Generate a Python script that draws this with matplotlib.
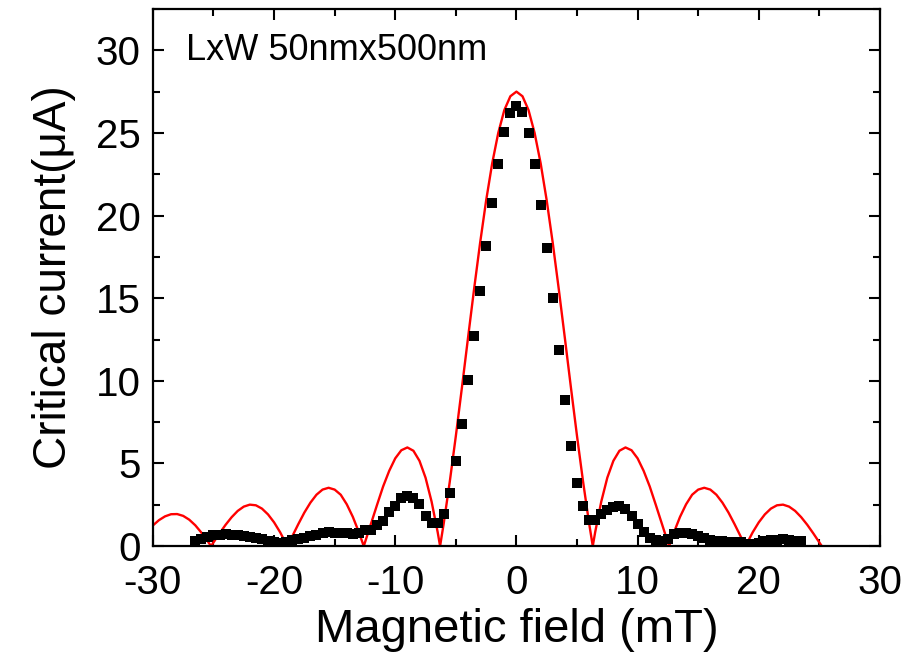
import matplotlib
matplotlib.use("Agg")
from matplotlib import pyplot as plt
from matplotlib.ticker import MultipleLocator

# measured critical current (black squares)
field_meas = [
    -26.5, -26.0, -25.5, -25.0, -24.5, -24.0, -23.5, -23.0, -22.5, -22.0,
    -21.5, -21.0, -20.5, -20.0, -19.5, -19.0, -18.5, -18.0, -17.5, -17.0,
    -16.5, -16.0, -15.5, -15.0, -14.5, -14.0, -13.5, -13.0, -12.5, -12.0,
    -11.5, -11.0, -10.5, -10.0, -9.5, -9.0, -8.5, -8.0, -7.5, -7.0,
    -6.5, -6.0, -5.5, -5.0, -4.5, -4.0, -3.5, -3.0, -2.5, -2.0,
    -1.5, -1.0, -0.5, 0.0, 0.5, 1.0, 1.5, 2.0, 2.5, 3.0,
    3.5, 4.0, 4.5, 5.0, 5.5, 6.0, 6.5, 7.0, 7.5, 8.0,
    8.5, 9.0, 9.5, 10.0, 10.5, 11.0, 11.5, 12.0, 12.5, 13.0,
    13.5, 14.0, 14.5, 15.0, 15.5, 16.0, 16.5, 17.0, 17.5, 18.0,
    18.5, 19.0, 19.5, 20.0, 20.5, 21.0, 21.5, 22.0, 22.5, 23.0, 23.5,
]
ic_meas = [
    0.30, 0.45, 0.55, 0.65, 0.70, 0.72, 0.70, 0.65, 0.60, 0.55,
    0.50, 0.42, 0.32, 0.24, 0.20, 0.25, 0.35, 0.45, 0.52, 0.60,
    0.70, 0.78, 0.85, 0.82, 0.80, 0.80, 0.76, 0.78, 0.95, 1.00,
    1.25, 1.55, 2.05, 2.45, 2.90, 3.05, 2.90, 2.55, 1.85, 1.40,
    1.37, 1.93, 3.23, 5.17, 7.41, 10.04, 12.69, 15.46, 18.17, 20.74,
    23.13, 25.04, 26.20, 26.64, 26.25, 25.00, 23.10, 20.66, 18.05, 15.02,
    11.89, 8.86, 6.04, 3.80, 2.45, 1.60, 1.60, 1.95, 2.20, 2.37,
    2.45, 2.25, 1.85, 1.35, 0.85, 0.50, 0.35, 0.32, 0.45, 0.72,
    0.80, 0.80, 0.72, 0.60, 0.48, 0.40, 0.32, 0.28, 0.25, 0.25,
    0.25, 0.15, 0.12, 0.20, 0.30, 0.35, 0.40, 0.42, 0.38, 0.32, 0.28,
]

# Fraunhofer fit (red line)
field_fit = [
    -30.0, -29.5, -29.0, -28.5, -28.0, -27.5, -27.0, -26.5, -26.0, -25.5, -25.2,
    -25.0, -24.5, -24.0, -23.5, -23.0, -22.5, -22.0, -21.5, -21.0, -20.5,
    -20.0, -19.5, -19.0, -18.9, -18.5, -18.0, -17.5, -17.0, -16.5, -16.0,
    -15.5, -15.0, -14.5, -14.0, -13.5, -13.0, -12.6, -12.5, -12.0, -11.5,
    -11.0, -10.5, -10.0, -9.5, -9.0, -8.5, -8.0, -7.5, -7.0, -6.5, -6.3,
    -6.0, -5.5, -5.0, -4.5, -4.0, -3.5, -3.0, -2.5, -2.0, -1.5, -1.0, -0.5,
    0.0, 0.5, 1.0, 1.5, 2.0, 2.5, 3.0, 3.5, 4.0, 4.5, 5.0, 5.5, 6.0,
    6.3, 6.5, 7.0, 7.5, 8.0, 8.5, 9.0, 9.5, 10.0, 10.5, 11.0, 11.5, 12.0, 12.5,
    12.6, 13.0, 13.5, 14.0, 14.5, 15.0, 15.5, 16.0, 16.5, 17.0, 17.5, 18.0, 18.5,
    18.9, 19.0, 19.5, 20.0, 20.5, 21.0, 21.5, 22.0, 22.5, 23.0, 23.5, 24.0, 24.5,
    25.0, 25.2,
]
ic_fit = [
    1.25, 1.57, 1.80, 1.93, 1.94, 1.83, 1.60, 1.26, 0.82, 0.32, 0.0,
    0.22, 0.77, 1.29, 1.75, 2.13, 2.39, 2.51, 2.47, 2.27, 1.92,
    1.44, 0.84, 0.14, 0.0, 0.59, 1.33, 2.03, 2.63, 3.11, 3.42,
    3.53, 3.42, 3.11, 2.53, 1.77, 0.84, 0.0, 0.22, 1.36, 2.50,
    3.61, 4.55, 5.31, 5.80, 5.97, 5.77, 5.16, 4.14, 2.69, 0.85, 0.0,
    1.37, 3.90, 6.66, 9.58, 12.57, 15.52, 18.33, 20.91, 23.16, 25.00, 26.38, 27.22,
    27.50, 27.22, 26.38, 25.00, 23.16, 20.91, 18.33, 15.52, 12.57, 9.58, 6.66, 3.90, 1.37,
    0.0, 0.85, 2.69, 4.14, 5.16, 5.77, 5.97, 5.80, 5.31, 4.55, 3.61, 2.50, 1.36, 0.22,
    0.0, 0.84, 1.77, 2.53, 3.11, 3.42, 3.53, 3.42, 3.11, 2.63, 2.03, 1.33, 0.59,
    0.0, 0.14, 0.84, 1.44, 1.92, 2.27, 2.47, 2.51, 2.39, 2.13, 1.75, 1.29, 0.77,
    0.22, 0.0,
]

plt.rcParams['font.family'] = ['Liberation Sans', 'DejaVu Sans']
plt.rcParams['axes.unicode_minus'] = False

fig = plt.figure(figsize=(9.1, 6.66), dpi=100)
ax = fig.add_axes([0.168, 0.18, 0.799, 0.8065])

ax.plot(field_fit, ic_fit, color='red', lw=1.7, zorder=2)
ax.plot(field_meas, ic_meas, 's', color='black', ms=7, mew=0, zorder=3)

ax.set_xlim(-30, 30)
ax.set_ylim(0, 32.5)
ax.xaxis.set_major_locator(MultipleLocator(10))
ax.xaxis.set_minor_locator(MultipleLocator(5))
ax.yaxis.set_major_locator(MultipleLocator(5))
ax.yaxis.set_minor_locator(MultipleLocator(2.5))
ax.tick_params(which='both', direction='in', top=True, right=True, width=1.5,
               labelsize=29)
ax.tick_params(which='major', length=8, pad=9)
ax.tick_params(axis='x', which='major', pad=13)
ax.tick_params(which='minor', length=5)
for s in ax.spines.values():
    s.set_linewidth(1.6)

ax.set_xlabel('Magnetic field (mT)', fontsize=34, labelpad=4)
ax.set_ylabel('Critical current(\u03bcA)', fontsize=33, labelpad=14)
ax.text(0.045, 0.955, 'LxW 50nmx500nm', transform=ax.transAxes, fontsize=26,
        va='top', ha='left')

plt.savefig('out.png', dpi=100)
